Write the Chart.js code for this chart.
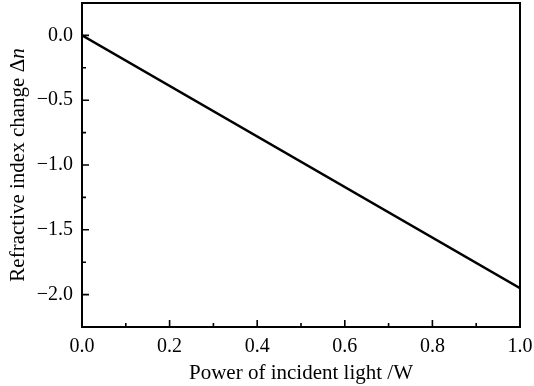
<!DOCTYPE html>
<html>
<head>
<meta charset="utf-8">
<script src="https://cdn.jsdelivr.net/npm/chart.js@4/dist/chart.umd.min.js"></script>
<style>
  html, body { margin: 0; padding: 0; background: #fff; }
  #wrap { width: 534px; height: 386px; }
</style>
</head>
<body>
<div id="wrap"><canvas id="c"></canvas></div>
<script>
'use strict';

// data
var power = [0.0, 1.0];
var deltaN = [0.0, -1.95];

var xMajor = [0.0, 0.2, 0.4, 0.6, 0.8, 1.0];
var xMinor = [0.1, 0.3, 0.5, 0.7, 0.9];
var yMajor = [0.0, -0.5, -1.0, -1.5, -2.0];
var yMinor = [-0.25, -0.75, -1.25, -1.75];

var FONT = '"Liberation Serif", "DejaVu Serif", serif';
var TICK_SIZE = 20;
var TITLE_SIZE = 21;

function fmt(v) {
    return v.toFixed(1).replace('-', '\u2212');
}

// frame, inward ticks and y title with italic n
var framePlugin = {
    id: 'frame',
    afterDraw: function(chart) {
        var ctx = chart.ctx, a = chart.chartArea;
        var xs = chart.scales.x, ys = chart.scales.y;
        ctx.save();
        ctx.strokeStyle = '#000';
        ctx.lineWidth = 2;
        ctx.strokeRect(a.left, a.top, a.right - a.left, a.bottom - a.top);

        ctx.lineWidth = 1.6;
        ctx.beginPath();
        xMajor.forEach(function(v) {
            var p = xs.getPixelForValue(v);
            ctx.moveTo(p, a.bottom); ctx.lineTo(p, a.bottom - 7);
        });
        xMinor.forEach(function(v) {
            var p = xs.getPixelForValue(v);
            ctx.moveTo(p, a.bottom); ctx.lineTo(p, a.bottom - 4);
        });
        yMajor.forEach(function(v) {
            var p = ys.getPixelForValue(v);
            ctx.moveTo(a.left, p); ctx.lineTo(a.left + 7, p);
        });
        yMinor.forEach(function(v) {
            var p = ys.getPixelForValue(v);
            ctx.moveTo(a.left, p); ctx.lineTo(a.left + 4, p);
        });
        ctx.stroke();

        // y axis title
        var t1 = 'Refractive index change \u0394';
        var t2 = 'n';
        ctx.fillStyle = '#000';
        ctx.textBaseline = 'middle';
        ctx.textAlign = 'left';
        ctx.font = TITLE_SIZE + 'px ' + FONT;
        var w1 = ctx.measureText(t1).width;
        ctx.font = 'italic ' + TITLE_SIZE + 'px ' + FONT;
        var w2 = ctx.measureText(t2).width;
        var cy = (a.top + a.bottom) / 2;
        ctx.translate(18, cy);
        ctx.rotate(-Math.PI / 2);
        var start = -(w1 + w2) / 2;
        ctx.font = TITLE_SIZE + 'px ' + FONT;
        ctx.fillText(t1, start, 0);
        ctx.font = 'italic ' + TITLE_SIZE + 'px ' + FONT;
        ctx.fillText(t2, start + w1, 0);
        ctx.restore();
    }
};

new Chart(document.getElementById('c'), {
    type: 'line',
    data: {
        datasets: [{
            data: power.map(function(p, i) { return { x: p, y: deltaN[i] }; }),
            borderColor: '#000',
            borderWidth: 2.4,
            pointRadius: 0,
            fill: false,
            tension: 0
        }]
    },
    options: {
        responsive: true,
        maintainAspectRatio: false,
        animation: false,
        layout: { padding: { top: 3, right: 14, left: 0, bottom: 0 } },
        plugins: {
            legend: { display: false },
            tooltip: { enabled: false }
        },
        scales: {
            x: {
                type: 'linear',
                min: 0,
                max: 1.0,
                afterFit: function(s) {
                    s.height = 59;
                    s.paddingLeft = 0;
                    s.paddingRight = 0;
                },
                afterBuildTicks: function(s) {
                    s.ticks = xMajor.map(function(v) { return { value: v }; });
                },
                grid: { display: false, drawTicks: false },
                border: { display: false },
                ticks: {
                    padding: 8,
                    color: '#000',
                    font: { family: FONT, size: TICK_SIZE },
                    maxRotation: 0,
                    callback: function(v) { return fmt(v); }
                },
                title: {
                    display: true,
                    text: 'Power of incident light /W',
                    color: '#000',
                    font: { family: FONT, size: TITLE_SIZE },
                    padding: { top: 1, bottom: 0 }
                }
            },
            y: {
                type: 'linear',
                min: -2.25,
                max: 0.25,
                afterFit: function(s) {
                    s.width = 82;
                    s.paddingTop = 0;
                    s.paddingBottom = 0;
                },
                afterBuildTicks: function(s) {
                    s.ticks = yMajor.map(function(v) { return { value: v }; });
                },
                grid: { display: false, drawTicks: false },
                border: { display: false },
                ticks: {
                    padding: 9,
                    color: '#000',
                    font: { family: FONT, size: TICK_SIZE },
                    callback: function(v) { return fmt(v); }
                }
            }
        }
    },
    plugins: [framePlugin]
});
</script>
</body>
</html>
